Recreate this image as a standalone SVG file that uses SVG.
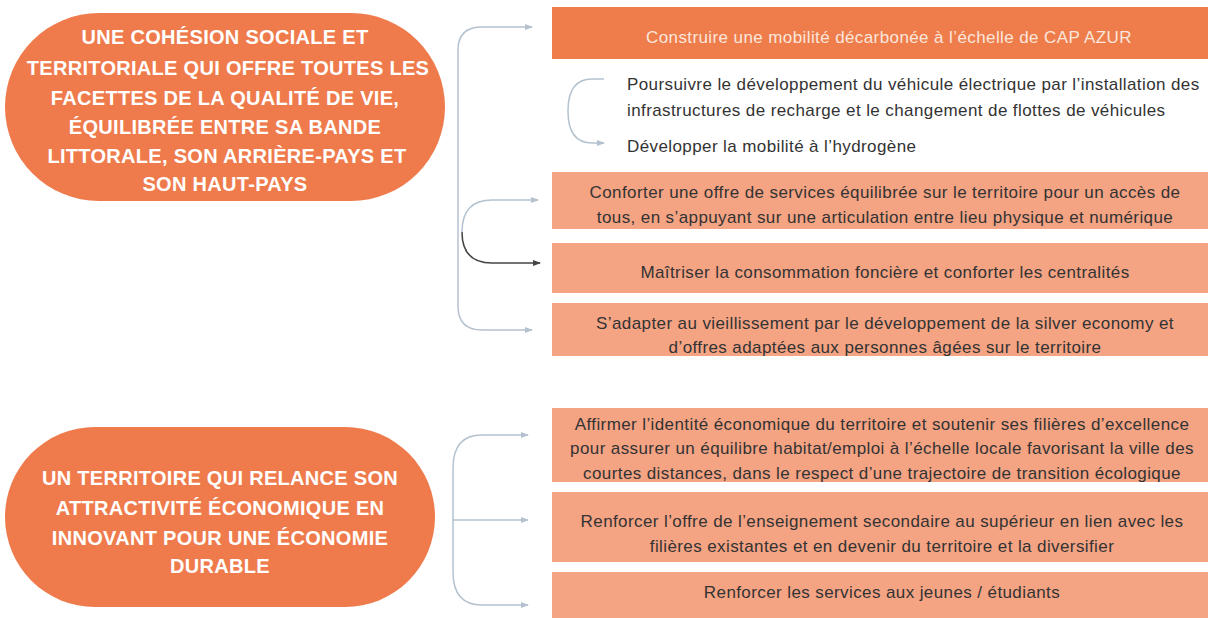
<svg xmlns="http://www.w3.org/2000/svg" width="1208" height="618" viewBox="0 0 1208 618">
<defs>
<marker id="ah" markerWidth="8" markerHeight="8" refX="7" refY="4" orient="auto" markerUnits="userSpaceOnUse"><path d="M0,1 L8,4 L0,7 z" fill="#B4C2CF"/></marker>
<marker id="ahd" markerWidth="8" markerHeight="8" refX="7" refY="4" orient="auto" markerUnits="userSpaceOnUse"><path d="M0,1 L8,4 L0,7 z" fill="#444"/></marker>
<style>
.oval{fill:#EF7B4D}
.ot{font-family:"Liberation Sans",Arial,sans-serif;font-weight:bold;font-size:20px;letter-spacing:0.3px;fill:#fff;text-anchor:middle}
.bd{fill:#EE7D4B}
.bl{fill:#F4A383}
.bt{font-family:"Liberation Sans",Arial,sans-serif;font-size:17px;letter-spacing:0.4px;fill:#333;text-anchor:middle}
.wt{font-family:"Liberation Sans",Arial,sans-serif;font-size:17px;letter-spacing:0.4px;fill:#fbe6dc;text-anchor:middle}
.pt{font-family:"Liberation Sans",Arial,sans-serif;font-size:17px;letter-spacing:0.4px;fill:#333}
.c{fill:none;stroke:#B4C2CF;stroke-width:1.5;marker-end:url(#ah)}
.cd{fill:none;stroke:#444;stroke-width:1.5;marker-end:url(#ahd)}
</style>
</defs>
<rect width="1208" height="618" fill="#fff"/>
<g id="axe1">
<rect class="oval" x="5" y="13" width="440" height="188" rx="94"/>
<text class="ot" x="225" y="44">UNE COHÉSION SOCIALE ET</text>
<text class="ot" x="228" y="75">TERRITORIALE QUI OFFRE TOUTES LES</text>
<text class="ot" x="225" y="105">FACETTES DE LA QUALITÉ DE VIE,</text>
<text class="ot" x="225" y="134">ÉQUILIBRÉE ENTRE SA BANDE</text>
<text class="ot" x="227" y="163">LITTORALE, SON ARRIÈRE-PAYS ET</text>
<text class="ot" x="225" y="191">SON HAUT-PAYS</text>
</g>
<g id="axe2">
<rect class="oval" x="5" y="427" width="430" height="180" rx="90"/>
<text class="ot" x="220" y="485">UN TERRITOIRE QUI RELANCE SON</text>
<text class="ot" x="220" y="515">ATTRACTIVITÉ ÉCONOMIQUE EN</text>
<text class="ot" x="220" y="545">INNOVANT POUR UNE ÉCONOMIE</text>
<text class="ot" x="220" y="573">DURABLE</text>
</g>
<g id="connectors">
<path class="c" d="M458 180 L458 50 Q458 27 482 27 L532 27"/>
<path class="c" d="M458 180 L458 306 Q458 330 482 330 L532 330"/>
<path class="c" d="M462 232 Q462 200 492 200 L538 200"/>
<path class="cd" d="M462 232 Q462 263 492 263 L540 263"/>
<path class="c" d="M604 79 L592 79 Q568 79 568 111 Q568 143 592 143 L604 143"/>
<path class="c" d="M453 520 L453 468 Q453 435 482 435 L528 435"/>
<path class="c" d="M453 520 L453 572 Q453 605 482 605 L528 605"/>
<path class="c" d="M453 520 L528 520"/>
</g>
<g id="n1">
<rect class="bd" x="552" y="7" width="660" height="52"/>
<text class="wt" x="889" y="43">Construire une mobilité décarbonée à l’échelle de CAP AZUR</text>
</g>
<g id="n1a">
<text class="pt" x="627" y="90">Poursuivre le développement du véhicule électrique par l’installation des</text>
<text class="pt" x="627" y="116">infrastructures de recharge et le changement de flottes de véhicules</text>
</g>
<g id="n1b">
<text class="pt" x="627" y="152">Développer la mobilité à l’hydrogène</text>
</g>
<g id="n2">
<rect class="bl" x="552" y="172" width="660" height="57"/>
<text class="bt" x="885" y="198">Conforter une offre de services équilibrée sur le territoire pour un accès de</text>
<text class="bt" x="885" y="223">tous, en s’appuyant sur une articulation entre lieu physique et numérique</text>
</g>
<g id="n3">
<rect class="bl" x="552" y="243" width="660" height="50"/>
<text class="bt" x="885" y="278">Maîtriser la consommation foncière et conforter les centralités</text>
</g>
<g id="n4">
<rect class="bl" x="552" y="303" width="660" height="53"/>
<text class="bt" x="885" y="329">S’adapter au vieillissement par le développement de la silver economy et</text>
<text class="bt" x="885" y="353">d’offres adaptées aux personnes âgées sur le territoire</text>
</g>
<g id="n5">
<rect class="bl" x="552" y="408" width="660" height="74"/>
<text class="bt" x="882" y="430">Affirmer l’identité économique du territoire et soutenir ses filières d’excellence</text>
<text class="bt" x="882" y="454">pour assurer un équilibre habitat/emploi à l’échelle locale favorisant la ville des</text>
<text class="bt" x="882" y="479">courtes distances, dans le respect d’une trajectoire de transition écologique</text>
</g>
<g id="n6">
<rect class="bl" x="552" y="492" width="660" height="70"/>
<text class="bt" x="882" y="527">Renforcer l’offre de l’enseignement secondaire au supérieur en lien avec les</text>
<text class="bt" x="882" y="552">filières existantes et en devenir du territoire et la diversifier</text>
</g>
<g id="n7">
<rect class="bl" x="552" y="572" width="660" height="50"/>
<text class="bt" x="882" y="598">Renforcer les services aux jeunes / étudiants</text>
</g>
</svg>
